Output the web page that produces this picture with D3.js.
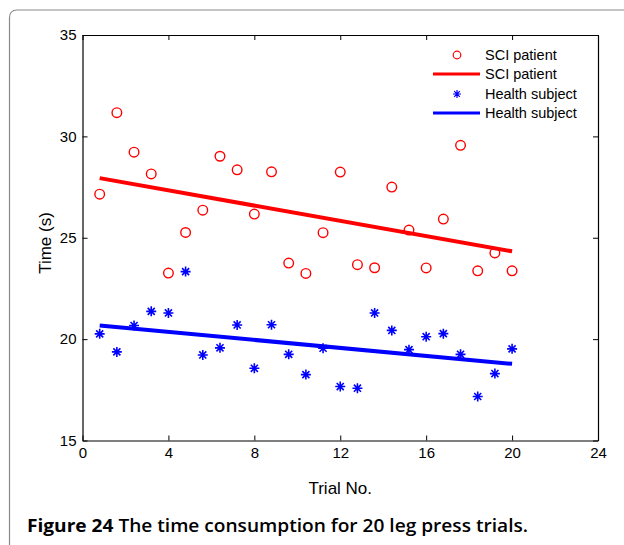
<!DOCTYPE html>
<html>
<head>
<meta charset="utf-8">
<script src="https://cdn.jsdelivr.net/npm/d3@7"></script>
<style>
  html, body { margin: 0; padding: 0; background: #fff; }
  svg { display: block; }
</style>
</head>
<body>
<svg id="chart" width="624" height="545"></svg>
<script>
// Trial positions (x axis) and measured completion times in seconds
const trials = [0.8, 1.6, 2.4, 3.2, 4.0, 4.8, 5.6, 6.4, 7.2, 8.0, 8.8, 9.6, 10.4,
                11.2, 12.0, 12.8, 13.6, 14.4, 15.2, 16.0, 16.8, 17.6, 18.4, 19.2, 20.0];
const sciTimes = [27.15, 31.17, 29.22, 28.15, 23.26, 25.26, 26.36, 29.02, 28.35, 26.17,
                  28.25, 23.75, 23.24, 25.25, 28.24, 23.67, 23.52, 27.5, 25.38, 23.51,
                  25.92, 29.56, 23.37, 24.25, 23.37];
const healthTimes = [20.26, 19.37, 20.67, 21.37, 21.29, 23.33, 19.22, 19.57, 20.7, 18.56,
                     20.71, 19.25, 18.25, 19.55, 17.66, 17.58, 21.29, 20.43, 19.48, 20.12,
                     20.27, 19.25, 17.17, 18.3, 19.52];
// Linear trend lines: [x, time] at the first and last trial
const sciFit = [[0.8, 27.94], [20, 24.33]];
const healthFit = [[0.8, 20.67], [20, 18.78]];
// Axis ticks and labels
const xTicks = [0, 4, 8, 12, 16, 20, 24];
const yTicks = [15, 20, 25, 30, 35];
const legendLabels = ["SCI patient", "SCI patient", "Health subject", "Health subject"];

const svg = d3.select("#chart");
const RED = "#ff0000", BLUE = "#0000ff";
const tickFont = "'Liberation Sans', Arial, Helvetica, sans-serif";

// Page frame with a rounded top-left corner
svg.append("path")
  .attr("d", "M9.5,545 L9.5,18 Q9.5,10 17,10 L624,10")
  .attr("fill", "none").attr("stroke", "#8a8a8a").attr("stroke-width", 1.2);

const x = d3.scaleLinear().domain([0, 24]).range([82.5, 598]);
const y = d3.scaleLinear().domain([15, 35]).range([440.5, 35]);

const g = svg.append("g");

// Axes: bottom/left with labels, top/right mirrored with inward ticks
const styleAxis = sel => {
  sel.selectAll(".domain").attr("stroke", "#000").attr("stroke-width", 1.2);
  sel.selectAll(".tick line").attr("stroke", "#000").attr("stroke-width", 1);
  sel.selectAll(".tick text").attr("font-family", tickFont).attr("font-size", 15).attr("fill", "#000");
};
g.append("g").attr("transform", `translate(0,${y(15)})`)
  .call(d3.axisBottom(x).tickValues(xTicks).tickSizeInner(-5).tickSizeOuter(0).tickPadding(7))
  .call(styleAxis);
g.append("g").attr("transform", `translate(0,${y(35)})`)
  .call(d3.axisTop(x).tickValues(xTicks).tickSizeInner(-5).tickSizeOuter(0).tickFormat(""))
  .call(styleAxis);
g.append("g").attr("transform", `translate(${x(0)},0)`)
  .call(d3.axisLeft(y).tickValues(yTicks).tickSizeInner(-5).tickSizeOuter(0).tickPadding(6))
  .call(styleAxis);
g.append("g").attr("transform", `translate(${x(24)},0)`)
  .call(d3.axisRight(y).tickValues(yTicks).tickSizeInner(-5).tickSizeOuter(0).tickFormat(""))
  .call(styleAxis);

// Axis titles
svg.append("text").attr("x", (x(0) + x(24)) / 2).attr("y", 494)
  .attr("text-anchor", "middle").attr("font-family", tickFont).attr("font-size", 17)
  .text("Trial No.");
svg.append("text").attr("transform", `translate(51,243) rotate(-90)`)
  .attr("text-anchor", "middle").attr("font-family", tickFont).attr("font-size", 17)
  .text("Time (s)");

// Marker helpers
const asteriskPath = (r) => {
  const d = r * Math.SQRT1_2;
  return `M${-r},0L${r},0M0,${-r}L0,${r}M${-d},${-d}L${d},${d}M${-d},${d}L${d},${-d}`;
};

const line = d3.line().x(d => x(d[0])).y(d => y(d[1]));

// Trend lines
g.append("path").datum(sciFit).attr("d", line)
  .attr("stroke", RED).attr("stroke-width", 4).attr("fill", "none");
g.append("path").datum(healthFit).attr("d", line)
  .attr("stroke", BLUE).attr("stroke-width", 4).attr("fill", "none");

// SCI patient markers (circles)
g.selectAll(".sci").data(trials).join("circle")
  .attr("cx", (d) => x(d)).attr("cy", (d, i) => y(sciTimes[i])).attr("r", 4.8)
  .attr("fill", "none").attr("stroke", RED).attr("stroke-width", 1.4);

// Health subject markers (asterisks)
g.selectAll(".hs").data(trials).join("path")
  .attr("transform", (d, i) => `translate(${x(d)},${y(healthTimes[i])})`)
  .attr("d", asteriskPath(5)).attr("stroke", BLUE).attr("stroke-width", 1.6).attr("fill", "none");

// Legend
const lg = svg.append("g");
const ly = [55, 74, 94, 113];
lg.append("circle").attr("cx", 457).attr("cy", ly[0]).attr("r", 3.8)
  .attr("fill", "none").attr("stroke", RED).attr("stroke-width", 1.2);
lg.append("line").attr("x1", 433).attr("x2", 480).attr("y1", ly[1]).attr("y2", ly[1])
  .attr("stroke", RED).attr("stroke-width", 3);
lg.append("path").attr("transform", `translate(457,${ly[2]})`).attr("d", asteriskPath(4))
  .attr("stroke", BLUE).attr("stroke-width", 1.2).attr("fill", "none");
lg.append("line").attr("x1", 433).attr("x2", 480).attr("y1", ly[3]).attr("y2", ly[3])
  .attr("stroke", BLUE).attr("stroke-width", 3);
lg.selectAll("text.lab").data(legendLabels).join("text")
  .attr("x", 485).attr("y", (d, i) => ly[i] + 5)
  .attr("font-family", tickFont).attr("font-size", 14.5).attr("fill", "#000")
  .text(d => d);

// Caption
const cap = svg.append("text").attr("x", 27).attr("y", 532)
  .attr("font-family", "'Open Sans', 'Noto Sans', sans-serif").attr("font-size", 18)
  .attr("textLength", 501).attr("lengthAdjust", "spacingAndGlyphs");
cap.append("tspan").attr("font-weight", 700).text("Figure 24");
cap.append("tspan").attr("font-weight", 600).text(" The time consumption for 20 leg press trials.");
</script>
</body>
</html>
